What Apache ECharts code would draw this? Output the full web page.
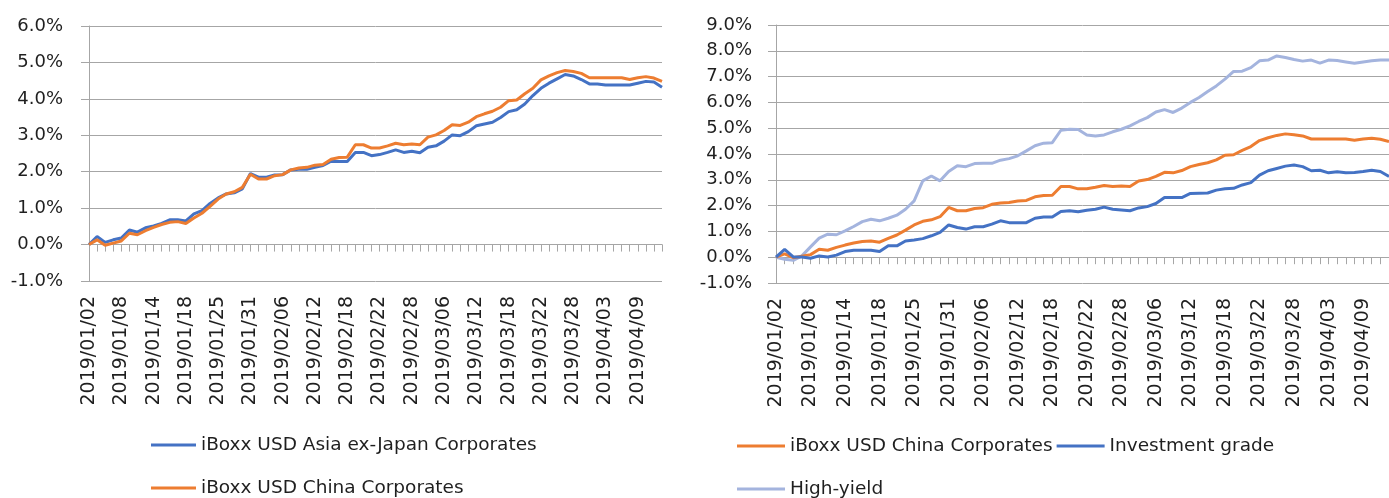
<!DOCTYPE html>
<html><head><meta charset="utf-8">
<script src="https://cdn.jsdelivr.net/npm/echarts@6/dist/echarts.min.js"></script>
<style>html,body{margin:0;padding:0;background:#fff;overflow:hidden}#c{width:1389px;height:498px}</style>
</head><body><div id="c"></div>
<script>
const dates = [
 '2019/01/02','2019/01/03','2019/01/04','2019/01/07','2019/01/08','2019/01/09','2019/01/10','2019/01/11','2019/01/14','2019/01/15','2019/01/16','2019/01/17','2019/01/18','2019/01/22','2019/01/23','2019/01/24','2019/01/25','2019/01/28','2019/01/29','2019/01/30','2019/01/31',
 '2019/02/01','2019/02/04','2019/02/05','2019/02/06','2019/02/07','2019/02/08','2019/02/11','2019/02/12','2019/02/13','2019/02/14','2019/02/15','2019/02/18','2019/02/19','2019/02/20','2019/02/21','2019/02/22','2019/02/25','2019/02/26','2019/02/27','2019/02/28',
 '2019/03/01','2019/03/04','2019/03/05','2019/03/06','2019/03/07','2019/03/08','2019/03/11','2019/03/12','2019/03/13','2019/03/14','2019/03/15','2019/03/18','2019/03/19','2019/03/20','2019/03/21','2019/03/22','2019/03/25','2019/03/26','2019/03/27','2019/03/28','2019/03/29',
 '2019/04/01','2019/04/02','2019/04/03','2019/04/04','2019/04/05','2019/04/08','2019/04/09','2019/04/10','2019/04/11','2019/04/12'
];
// cumulative return, %
const asiaExJapan = [0,0.22,0.06,0.13,0.18,0.40,0.34,0.46,0.51,0.58,0.68,0.68,0.65,0.84,0.93,1.13,1.28,1.39,1.42,1.53,1.95,1.85,1.85,1.91,1.92,2.05,2.07,2.07,2.12,2.17,2.29,2.28,2.28,2.53,2.53,2.44,2.47,2.53,2.60,2.53,2.56,2.52,2.67,2.71,2.84,3.01,2.99,3.10,3.26,3.31,3.36,3.49,3.65,3.70,3.86,4.09,4.29,4.43,4.55,4.67,4.63,4.53,4.41,4.41,4.38,4.38,4.38,4.38,4.43,4.48,4.46,4.32];
const chinaCorp = [0,0.13,-0.02,0.04,0.10,0.31,0.27,0.38,0.47,0.55,0.61,0.63,0.58,0.73,0.86,1.05,1.25,1.39,1.45,1.57,1.93,1.80,1.80,1.89,1.92,2.05,2.10,2.12,2.18,2.20,2.34,2.39,2.40,2.74,2.74,2.65,2.65,2.71,2.78,2.74,2.76,2.74,2.95,3.01,3.13,3.29,3.27,3.36,3.51,3.59,3.66,3.77,3.95,3.97,4.14,4.29,4.52,4.63,4.72,4.78,4.75,4.70,4.58,4.58,4.58,4.58,4.58,4.53,4.58,4.61,4.57,4.48];
const investmentGrade = [0,0.30,0.01,0.01,-0.04,0.05,0.01,0.08,0.22,0.27,0.27,0.27,0.22,0.44,0.44,0.63,0.67,0.72,0.83,0.96,1.25,1.15,1.09,1.18,1.18,1.28,1.41,1.34,1.34,1.34,1.51,1.56,1.56,1.77,1.80,1.76,1.82,1.86,1.94,1.86,1.83,1.80,1.91,1.96,2.08,2.31,2.31,2.31,2.47,2.48,2.49,2.60,2.65,2.67,2.80,2.89,3.18,3.35,3.44,3.53,3.57,3.51,3.35,3.37,3.27,3.31,3.27,3.28,3.32,3.37,3.32,3.13];
const highYield = [0,-0.08,-0.12,0.05,0.40,0.74,0.89,0.87,1.02,1.19,1.38,1.47,1.41,1.51,1.63,1.86,2.18,2.96,3.15,2.96,3.32,3.54,3.51,3.63,3.64,3.64,3.76,3.82,3.93,4.12,4.32,4.42,4.44,4.92,4.96,4.95,4.74,4.70,4.74,4.86,4.96,5.09,5.26,5.41,5.63,5.72,5.61,5.78,6.00,6.19,6.42,6.64,6.90,7.20,7.21,7.35,7.61,7.64,7.80,7.74,7.66,7.60,7.64,7.52,7.64,7.62,7.57,7.52,7.57,7.61,7.64,7.64];
const leftY = {min: -1, max: 6, step: 1};
const rightY = {min: -1, max: 9, step: 1};

const NAME_ASIA = 'iBoxx USD Asia ex-Japan Corporates';
const NAME_CHINA = 'iBoxx USD China Corporates';
const NAME_IG = 'Investment grade';
const NAME_HY = 'High-yield';

const C_BLUE = '#4472C4', C_ORANGE = '#ED7D31', C_LIGHT = '#A4B4DE';
const GRID_C = '#A6A6A6';
const TXT = '#1f1f1f';
const FONT = 'DejaVu Sans';

function tickAxis(gi) {
  return {
    type: 'category', gridIndex: gi, data: dates, boundaryGap: false, position: 'bottom',
    axisLine: {show: true, onZero: true, lineStyle: {color: GRID_C, width: 1}},
    axisTick: {show: true, interval: 0, length: 7, lineStyle: {color: GRID_C}},
    axisLabel: {show: false}, splitLine: {show: false}
  };
}
function labelAxis(gi) {
  return {
    type: 'category', gridIndex: gi, data: dates, boundaryGap: false, position: 'bottom',
    axisLine: {show: false, onZero: false}, axisTick: {show: false},
    axisLabel: {show: true, interval: 3, rotate: 90, margin: 15, fontFamily: FONT, fontSize: 19, color: TXT},
    splitLine: {show: false}
  };
}
function valAxis(gi, r, margin) {
  return {
    type: 'value', gridIndex: gi, min: r.min, max: r.max, interval: r.step,
    axisLine: {show: true, lineStyle: {color: GRID_C, width: 1}},
    axisTick: {show: true, length: 8, lineStyle: {color: GRID_C}},
    axisLabel: {margin: margin, fontFamily: FONT, fontSize: 18, color: TXT, formatter: v => v.toFixed(1) + '%'},
    splitLine: {show: true, lineStyle: {color: GRID_C, width: 1}}
  };
}
function line(name, data, color, xi, yi) {
  return {
    name, type: 'line', data, xAxisIndex: xi, yAxisIndex: yi, color,
    symbol: 'none', lineStyle: {color, width: 3}, animation: false, z: 3
  };
}
const legText = {fontFamily: FONT, fontSize: 18.5, color: TXT, lineHeight: 20};
function leg(names, left, top, w, gap) {
  return {data: names, left, top, orient: 'horizontal', icon: 'rect', itemWidth: w, itemHeight: 3,
    itemGap: gap, padding: 0, textStyle: legText, selectedMode: false};
}

const chart = echarts.init(document.getElementById('c'), null, {renderer: 'canvas'});
chart.setOption({
  animation: false,
  backgroundColor: '#fff',
  grid: [
    {left: 89, top: 26, width: 573, height: 255},
    {left: 776, top: 25, width: 617, height: 258}
  ],
  xAxis: [tickAxis(0), labelAxis(0), tickAxis(1), labelAxis(1)],
  yAxis: [valAxis(0, leftY, 26), valAxis(1, rightY, 24)],
  legend: [
    leg([NAME_ASIA], 151, 435, 45, 10),
    leg([NAME_CHINA], 151, 478, 45, 10),
    leg([NAME_CHINA, NAME_IG], 737, 436, 48, 4),
    leg([NAME_HY], 737, 479, 48, 4)
  ],
  series: [
    line(NAME_ASIA, asiaExJapan, C_BLUE, 0, 0),
    line(NAME_CHINA, chinaCorp, C_ORANGE, 0, 0),
    line(NAME_HY, highYield, C_LIGHT, 2, 1),
    line(NAME_CHINA, chinaCorp, C_ORANGE, 2, 1),
    line(NAME_IG, investmentGrade, C_BLUE, 2, 1)
  ]
});
</script></body></html>
